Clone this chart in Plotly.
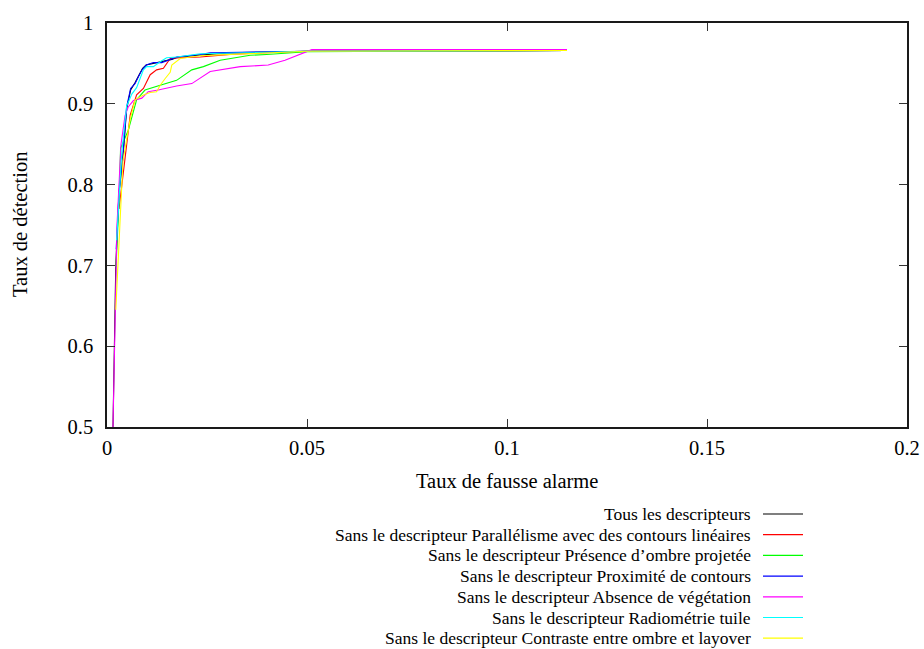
import plotly.graph_objects as go

# ---- data ----
x_tous = [0.0015, 0.0022, 0.0030, 0.0040, 0.0049, 0.0059, 0.0070, 0.0081, 0.0089, 0.0098, 0.0116, 0.0137, 0.0162, 0.0178, 0.0233, 0.0300, 0.0500, 0.1150]
y_tous = [0.500, 0.700, 0.790, 0.835, 0.893, 0.917, 0.926, 0.937, 0.944, 0.948, 0.950, 0.952, 0.955, 0.958, 0.960, 0.963, 0.965, 0.966]

x_parall = [0.0030, 0.0045, 0.0058, 0.0074, 0.0091, 0.0108, 0.0124, 0.0141, 0.0149, 0.0158, 0.0183, 0.0233, 0.0315, 0.0500, 0.1150]
y_parall = [0.770, 0.830, 0.886, 0.911, 0.919, 0.936, 0.942, 0.944, 0.950, 0.956, 0.957, 0.958, 0.9615, 0.965, 0.966]

x_ombre = [0.00225, 0.0030, 0.0034, 0.0053, 0.0074, 0.0095, 0.0133, 0.0174, 0.0212, 0.0241, 0.0283, 0.0358, 0.0399, 0.0499, 0.1150]
y_ombre = [0.698, 0.780, 0.845, 0.867, 0.905, 0.917, 0.923, 0.929, 0.942, 0.946, 0.954, 0.960, 0.961, 0.9645, 0.966]

x_proxi = [0.0023, 0.0030, 0.0039, 0.0049, 0.0059, 0.0070, 0.0081, 0.0089, 0.0098, 0.0116, 0.0137, 0.0162, 0.0174, 0.0233, 0.0258, 0.0500, 0.1150]
y_proxi = [0.720, 0.790, 0.830, 0.896, 0.919, 0.925, 0.936, 0.943, 0.948, 0.951, 0.951, 0.956, 0.958, 0.961, 0.963, 0.965, 0.966]

x_veget = [0.0015, 0.0025, 0.0035, 0.0045, 0.0053, 0.0066, 0.0087, 0.0103, 0.0128, 0.0174, 0.0212, 0.0258, 0.0333, 0.0403, 0.0445, 0.0483, 0.0512, 0.1150]
y_veget = [0.500, 0.750, 0.850, 0.885, 0.896, 0.904, 0.907, 0.915, 0.917, 0.922, 0.925, 0.940, 0.946, 0.948, 0.954, 0.961, 0.967, 0.967]

x_radio = [0.0024, 0.0037, 0.0049, 0.0062, 0.0074, 0.0091, 0.0099, 0.0116, 0.0133, 0.0149, 0.0174, 0.0233, 0.0500, 0.1150]
y_radio = [0.731, 0.840, 0.897, 0.912, 0.920, 0.942, 0.946, 0.946, 0.952, 0.957, 0.958, 0.962, 0.965, 0.966]

x_contr = [0.0022, 0.0040, 0.0058, 0.0070, 0.0091, 0.0108, 0.0124, 0.0133, 0.0145, 0.0158, 0.0162, 0.0183, 0.0233, 0.0500, 0.1150]
y_contr = [0.645, 0.830, 0.881, 0.905, 0.911, 0.914, 0.915, 0.923, 0.931, 0.939, 0.948, 0.956, 0.9595, 0.965, 0.966]

series_names = [
    "Tous les descripteurs",
    "Sans le descripteur Parallélisme avec des contours linéaires",
    "Sans le descripteur Présence d’ombre projetée",
    "Sans le descripteur Proximité de contours",
    "Sans le descripteur Absence de végétation",
    "Sans le descripteur Radiométrie tuile",
    "Sans le descripteur Contraste entre ombre et layover",
]
series_x = [x_tous, x_parall, x_ombre, x_proxi, x_veget, x_radio, x_contr]
series_y = [y_tous, y_parall, y_ombre, y_proxi, y_veget, y_radio, y_contr]
colors = ["#000000", "#ff0000", "#00ff00", "#0000ff", "#ff00ff", "#00ffff", "#ffff00"]

x_tickvals = [0, 0.05, 0.1, 0.15, 0.2]
x_ticktext = ["0", "0.05", "0.1", "0.15", "0.2"]
y_tickvals = [0.5, 0.6, 0.7, 0.8, 0.9, 1.0]
y_ticktext = ["0.5", "0.6", "0.7", "0.8", "0.9", "1"]

# ---- figure ----
FONT = "Liberation Serif, Times New Roman, serif"
W, H = 924, 649
PLOT_L, PLOT_T, PLOT_R, PLOT_B = 107, 23, 907, 427   # target page pixels
ML = PLOT_L
MT = PLOT_T
PW = PLOT_R - PLOT_L
PH = PLOT_B - PLOT_T
MR = W - ML - PW
MB = H - MT - PH

fig = go.Figure()
for i in range(len(series_names)):
    fig.add_trace(go.Scatter(
        x=series_x[i], y=series_y[i], mode="lines",
        line=dict(color=colors[i], width=1.1),
        name=series_names[i], showlegend=False, hoverinfo="skip",
    ))

def px_to_paper_x(px):
    return (px - PLOT_L) / PW

def px_to_paper_y(py):
    return (PLOT_B - py) / PH

annotations = []
shapes = []
row0 = 514.0
dy = 20.7
for k, name in enumerate(series_names):
    py = row0 + k * dy
    annotations.append(dict(
        x=px_to_paper_x(753), y=px_to_paper_y(py), xref="paper", yref="paper",
        text=name, showarrow=False, xanchor="right", yanchor="middle",
        font=dict(family=FONT, size=17.5, color="#000000"),
    ))
    shapes.append(dict(
        type="line", xref="paper", yref="paper",
        x0=px_to_paper_x(763), x1=px_to_paper_x(803),
        y0=px_to_paper_y(py), y1=px_to_paper_y(py),
        line=dict(color=colors[k], width=1.2),
    ))

# axis titles
annotations.append(dict(
    x=px_to_paper_x(507), y=px_to_paper_y(481), xref="paper", yref="paper",
    text="Taux de fausse alarme", showarrow=False, xanchor="center", yanchor="middle",
    font=dict(family=FONT, size=20.5, color="#000000"),
))
annotations.append(dict(
    x=px_to_paper_x(20), y=px_to_paper_y(225), xref="paper", yref="paper",
    text="Taux de détection", showarrow=False, xanchor="center", yanchor="middle",
    textangle=-90, font=dict(family=FONT, size=20.5, color="#000000"),
))

axis_common = dict(
    showgrid=False, zeroline=False, showline=True, linecolor="#1a1a1a", linewidth=1.5,
    mirror="ticks", ticks="inside", ticklen=8, tickwidth=1.2, tickcolor="#333333",
    tickfont=dict(family=FONT, size=20.5, color="#000000"), automargin=False,
)

fig.update_layout(
    width=W, height=H, autosize=False,
    margin=dict(l=ML, r=MR, t=MT, b=MB, pad=0, autoexpand=False),
    paper_bgcolor="white", plot_bgcolor="white",
    xaxis=dict(range=[0, 0.2], tickvals=x_tickvals, ticktext=x_ticktext,
               ticklabelstandoff=2, **axis_common),
    yaxis=dict(range=[0.5, 1.0], tickvals=y_tickvals, ticktext=y_ticktext,
               ticklabelstandoff=8, **axis_common),
    annotations=annotations,
    shapes=shapes,
    showlegend=False,
)

fig.write_html(
    "out.html",
    config={"displayModeBar": False},
    post_script="document.body.style.margin='0';document.body.style.overflow='hidden';",
)
